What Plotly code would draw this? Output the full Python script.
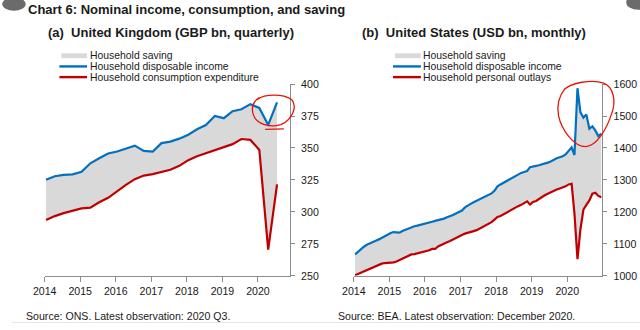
import plotly.graph_objects as go
import pandas as pd

# ---------------- DATA ----------------
uk_dates = pd.date_range("2014-01-01", periods=27, freq="QS") + pd.Timedelta(days=14)
uk_income = [325.1, 327.9, 328.9, 329.4, 331.4, 338.0, 342.0, 345.7, 347.2, 349.7,
             351.8, 347.7, 347.2, 353.8, 355.0, 357.3, 360.4, 364.6, 367.9, 375.0,
             373.3, 378.8, 380.3, 384.3, 381.3, 368.0, 385.6]
uk_consumption = [293.7, 296.7, 299.0, 300.8, 302.8, 303.3, 307.5, 311.0, 316.5, 321.2,
                  325.6, 328.4, 329.6, 331.5, 333.0, 336.0, 340.5, 343.5, 346.0, 348.5,
                  350.5, 353.0, 357.0, 356.3, 348.5, 270.5, 321.5]

us_dates = pd.date_range("2014-01-01", periods=84, freq="MS") + pd.Timedelta(days=14)
us_income = [
    1067, 1076, 1084, 1091, 1097, 1102, 1106, 1110, 1114, 1119, 1125, 1130,   # 2014
    1134, 1137, 1136, 1135, 1140, 1144, 1147, 1151, 1155, 1157, 1159, 1162,   # 2015
    1165, 1167, 1169, 1172, 1174, 1177, 1179, 1183, 1186, 1190, 1195, 1199,   # 2016
    1204, 1214, 1220, 1225, 1230, 1235, 1240, 1244, 1248, 1253, 1258, 1266,   # 2017
    1280, 1286, 1291, 1296, 1300, 1306, 1312, 1318, 1322, 1325, 1328, 1340,   # 2018
    1343, 1344, 1346, 1348, 1351, 1354, 1358, 1364, 1368, 1371, 1374, 1380,   # 2019
    1390, 1402, 1378, 1587, 1512, 1495, 1505, 1460, 1468, 1455, 1437, 1445,   # 2020
]
us_outlays = [
    1002, 1006, 1011, 1015, 1019, 1022, 1026, 1031, 1034, 1038, 1040, 1040,   # 2014
    1040, 1042, 1045, 1049, 1053, 1058, 1063, 1067, 1068, 1070, 1072, 1074,   # 2015
    1077, 1080, 1084, 1084, 1092, 1097, 1100, 1105, 1109, 1114, 1120, 1124,   # 2016
    1128, 1132, 1134, 1137, 1140, 1143, 1148, 1152, 1157, 1163, 1168, 1176,   # 2017
    1184, 1187, 1192, 1197, 1202, 1207, 1213, 1218, 1222, 1227, 1233, 1223,   # 2018
    1231, 1234, 1240, 1247, 1252, 1257, 1262, 1266, 1270, 1273, 1276, 1280,   # 2019
    1286, 1288, 1195, 1052, 1145, 1207, 1222, 1236, 1257, 1260, 1250, 1246,   # 2020
]

uk_yticks = [250, 275, 300, 325, 350, 375, 400]
us_yticks = [1000, 1100, 1200, 1300, 1400, 1500, 1600]

title = "Chart 6: Nominal income, consumption, and saving"
uk_title = "(a)  United Kingdom (GBP bn, quarterly)"
us_title = "(b)  United States (USD bn, monthly)"
uk_legend = ["Household saving", "Household disposable income", "Household consumption expenditure"]
us_legend = ["Household saving", "Household disposable income", "Household personal outlays"]
uk_source = "Source: ONS. Latest observation: 2020 Q3."
us_source = "Source: BEA. Latest observation: December 2020."

# ---------------- STYLE ----------------
W, H = 640, 330
BLUE = "#0070C0"
RED = "#C00000"
GREY = "#D9D9D9"
AXIS = "#8c8c8c"
FONT = "Liberation Sans, Arial, sans-serif"
TXT = "#1a1a1a"


def px(x):
    return x / W


def py(y):
    return 1 - y / H


fig = go.Figure()


def add_panel(dates, income, outlays, xa, ya):
    fig.add_trace(go.Scatter(x=dates, y=outlays, mode="lines", line=dict(width=0, color=RED),
                             xaxis=xa, yaxis=ya, showlegend=False, hoverinfo="skip"))
    fig.add_trace(go.Scatter(x=dates, y=income, mode="lines", line=dict(width=2.2, color=BLUE),
                             fill="tonexty", fillcolor=GREY, xaxis=xa, yaxis=ya, showlegend=False))
    fig.add_trace(go.Scatter(x=dates, y=outlays, mode="lines", line=dict(width=2.2, color=RED),
                             xaxis=xa, yaxis=ya, showlegend=False))


add_panel(uk_dates, uk_income, uk_consumption, "x", "y")
add_panel(us_dates, us_income, us_outlays, "x2", "y2")

xcommon = dict(type="date", tick0="2014-01-01", dtick="M12", tickformat="%Y",
               ticks="outside", ticklen=5, tickcolor=AXIS, tickwidth=1,
               showline=True, linecolor=AXIS, linewidth=1, showgrid=False, zeroline=False,
               tickfont=dict(family=FONT, size=10.6, color=TXT))
ycommon = dict(side="right", ticks="outside", ticklen=4, tickcolor=AXIS, tickwidth=1,
               showline=True, linecolor=AXIS, linewidth=1, showgrid=False, zeroline=False,
               tickfont=dict(family=FONT, size=10.6, color=TXT), ticklabelstandoff=4)

ydom = [py(280), py(81)]
fig.update_layout(
    xaxis=dict(domain=[px(33.3), px(283.3)], range=["2014-01-01", "2020-11-25"], anchor="y", **xcommon),
    yaxis=dict(domain=ydom, range=[250, 400], tickvals=uk_yticks, anchor="x", **ycommon),
    xaxis2=dict(domain=[px(348.3), px(601.7)], range=["2014-01-01", "2020-12-27"], anchor="y2", **xcommon),
    yaxis2=dict(domain=ydom, range=[1000, 1600], tickvals=us_yticks, anchor="x2", **ycommon),
    width=W, height=H, margin=dict(l=0, r=0, t=0, b=0),
    paper_bgcolor="white", plot_bgcolor="white", showlegend=False,
    font=dict(family=FONT, color=TXT),
)

ann = []
shapes = []


def text(x, y, s, size, bold=False, anchor="left"):
    ann.append(dict(xref="paper", yref="paper", x=px(x), y=py(y), xanchor=anchor, yanchor="middle",
                    text=f"<b>{s}</b>" if bold else s, showarrow=False, borderpad=0,
                    font=dict(family=FONT, size=size, color=TXT)))


text(15, 3.6, title, 13, bold=True)
text(36, 27, uk_title, 13, bold=True)
text(356, 27, us_title, 13, bold=True)
text(13, 321.7, uk_source, 10.6)
text(331.7, 321.7, us_source, 10.6)


def legend(x_sym0, x_sym1, x_txt, labels):
    rows = [51.6, 62.7, 73.8]
    shapes.append(dict(type="rect", xref="paper", yref="paper", x0=px(x_sym0 + 2), x1=px(x_sym1),
                       y0=py(rows[0] + 2.5), y1=py(rows[0] - 2.5), fillcolor=GREY, line=dict(width=0)))
    for r, c in zip(rows[1:], [BLUE, RED]):
        shapes.append(dict(type="line", xref="paper", yref="paper", x0=px(x_sym0), x1=px(x_sym1),
                           y0=py(r), y1=py(r), line=dict(color=c, width=2.4)))
    for r, lab in zip(rows, labels):
        text(x_txt, r, lab, 10.4)


legend(48.3, 76.5, 78.3, uk_legend)
legend(388.3, 416.7, 418.3, us_legend)


def path(points):
    s = f"M {px(points[0][0])},{py(points[0][1])}"
    for i in range(1, len(points), 3):
        a, b, c = points[i], points[i + 1], points[i + 2]
        s += f" C {px(a[0])},{py(a[1])} {px(b[0])},{py(b[1])} {px(c[0])},{py(c[1])}"
    return s


# hand-drawn red circles
uk_circle = [(250, 97), (258, 91), (276, 91), (285, 97),
             (291, 104), (286, 118), (274, 123),
             (262, 127), (249, 122), (246, 113),
             (243, 104), (246, 99), (252, 95)]
us_circle = [(562, 88), (568, 79), (592, 76), (603, 80),
             (613, 84), (616, 99), (611, 112),
             (606, 128), (596, 145), (585, 146),
             (572, 146), (560, 128), (557, 114),
             (555, 104), (557, 94), (564, 85)]
for pts in (uk_circle, us_circle):
    shapes.append(dict(type="path", xref="paper", yref="paper", path=path(pts),
                       line=dict(color="#e8140c", width=1.3)))
shapes.append(dict(type="line", xref="paper", yref="paper", x0=px(258), x1=px(277),
                   y0=py(128), y1=py(127.6), line=dict(color="#e8140c", width=1.3)))

# faint bottom border and corner artefacts
shapes.append(dict(type="line", xref="paper", yref="paper", x0=0, x1=1, y0=py(328.5), y1=py(328.5),
                   line=dict(color="#e6e6e6", width=1)))
shapes.append(dict(type="circle", xref="paper", yref="paper", x0=px(-10), x1=px(14), y0=py(5), y1=py(-9),
                   fillcolor="#6b6b6b", line=dict(width=0)))
shapes.append(dict(type="circle", xref="paper", yref="paper", x0=px(626), x1=px(650), y0=py(4), y1=py(-12),
                   fillcolor="#6b6b6b", line=dict(width=0)))

fig.update_layout(annotations=ann, shapes=shapes)
fig.write_html("out.html")
